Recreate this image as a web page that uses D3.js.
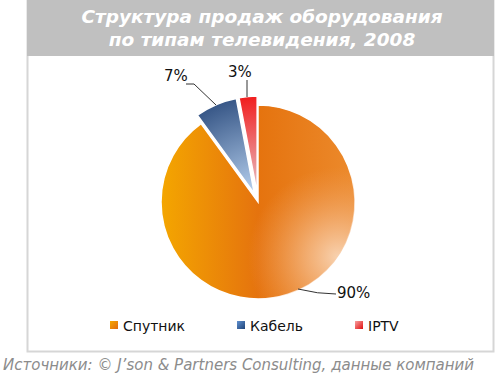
<!DOCTYPE html>
<html>
<head>
<meta charset="utf-8">
<script src="https://cdn.jsdelivr.net/npm/d3@7"></script>
<style>
  body { margin: 0; background: #fff; }
  svg { display: block; }
</style>
</head>
<body>
<div id="container"></div>
<script>
// data
const categories = ['Спутник', 'Кабель', 'IPTV'];
const shares = [90, 7, 3];
const labels = ['90%', '7%', '3%'];
const titleLines = ['Структура продаж оборудования', 'по типам телевидения, 2008'];
const sourceText = 'Источники: © J’son & Partners Consulting, данные компаний';

const width = 500, height = 375;
const cx = 258, cy = 202, radius = 97;

const svg = d3.select('#container')
  .append('svg')
  .attr('width', width)
  .attr('height', height);

const defs = svg.append('defs');

// orange gradient (coordinates relative to pie centre)
const og = defs.append('linearGradient').attr('id', 'g-orange')
  .attr('gradientUnits', 'userSpaceOnUse')
  .attr('x1', -radius).attr('y1', 0).attr('x2', radius).attr('y2', 0);
og.append('stop').attr('offset', 0).attr('stop-color', '#f4a600');
og.append('stop').attr('offset', 0.5).attr('stop-color', '#e5730e');
og.append('stop').attr('offset', 1).attr('stop-color', '#ec8a2c');

const oh = defs.append('radialGradient').attr('id', 'g-orange-hl')
  .attr('gradientUnits', 'userSpaceOnUse')
  .attr('cx', 80).attr('cy', 55).attr('r', 90);
oh.append('stop').attr('offset', 0).attr('stop-color', '#f8d2b0').attr('stop-opacity', 1);
oh.append('stop').attr('offset', 0.35).attr('stop-color', '#f5bb8a').attr('stop-opacity', 0.75);
oh.append('stop').attr('offset', 1).attr('stop-color', '#f0a060').attr('stop-opacity', 0);

// blue / red radial gradients (light at centre, saturated at rim)
const radial = (id, inner, outer) => {
  const g = defs.append('radialGradient').attr('id', id)
    .attr('gradientUnits', 'userSpaceOnUse')
    .attr('cx', 0).attr('cy', 0).attr('r', radius + 10);
  g.append('stop').attr('offset', 0).attr('stop-color', inner);
  g.append('stop').attr('offset', 1).attr('stop-color', outer);
};
radial('g-blue', '#b8d2f0', '#2a4a7c');
radial('g-red', '#e8c4c8', '#f20c0c');

const fills = ['url(#g-orange)', 'url(#g-blue)', 'url(#g-red)'];
const legendColors = [['#f6a800', '#e06a10'], ['#6090d0', '#1f4478'], ['#f8a0a0', '#e01010']];
const explode = [0, 9, 9];

// header + frame
svg.append('rect')
  .attr('x', 27.5).attr('y', 0.5).attr('width', 466).attr('height', 351)
  .attr('fill', '#fff').attr('stroke', '#d6d6d6').attr('stroke-width', 2);
svg.append('rect')
  .attr('x', 27).attr('y', 0).attr('width', 467).attr('height', 56)
  .attr('fill', '#c0c0c0');

svg.append('g')
  .selectAll('text')
  .data(titleLines)
  .join('text')
  .attr('x', 262)
  .attr('y', (d, i) => 23 + i * 23)
  .attr('text-anchor', 'middle')
  .attr('fill', '#fff')
  .style('font-family', 'DejaVu Sans, sans-serif')
  .style('font-weight', 'bold')
  .style('font-style', 'italic')
  .style('font-size', '18.5px')
  .text(d => d);

// pie
const pie = d3.pie().sort(null).value(d => d);
const arcs = pie(shares);
const arc = d3.arc().innerRadius(0).outerRadius(radius);

const slices = svg.append('g')
  .attr('transform', `translate(${cx},${cy})`)
  .selectAll('g')
  .data(arcs)
  .join('g')
  .attr('transform', (d, i) => {
    const a = (d.startAngle + d.endAngle) / 2;
    return `translate(${Math.sin(a) * explode[i]},${-Math.cos(a) * explode[i]})`;
  });

slices.append('path')
  .attr('d', arc)
  .attr('fill', (d, i) => fills[i])
  .attr('stroke', '#fff')
  .attr('stroke-width', 1.5);

// light highlight on the lower right of the big slice
slices.filter((d, i) => i === 0)
  .append('path')
  .attr('d', arc)
  .attr('fill', 'url(#g-orange-hl)');

// labels with leader lines
const labelPos = [[337, 298], [164, 81], [228, 77]];
const leaders = [
  d => `M${cx + 40},${cy + 87} Q${cx + 60},${cy + 92} ${cx + 78},${cy + 92}`,
  d => `M${cx - 42},${cy - 97} L${cx - 64},${cy - 118} L${cx - 72},${cy - 118}`,
  d => `M${cx - 11},${cy - 105} L${cx - 11},${cy - 122}`
];
svg.append('g')
  .selectAll('path')
  .data(arcs)
  .join('path')
  .attr('d', (d, i) => leaders[i](d))
  .attr('fill', 'none')
  .attr('stroke', '#333')
  .attr('stroke-width', 1);

svg.append('g')
  .selectAll('text')
  .data(labels)
  .join('text')
  .attr('x', (d, i) => labelPos[i][0])
  .attr('y', (d, i) => labelPos[i][1])
  .attr('fill', '#111')
  .style('font-family', 'DejaVu Sans, sans-serif')
  .style('font-size', '15px')
  .text(d => d);

// legend
const legendX = [110, 237, 355];
const legend = svg.append('g')
  .selectAll('g')
  .data(categories)
  .join('g')
  .attr('transform', (d, i) => `translate(${legendX[i]},321)`);

legendColors.forEach((c, i) => {
  const lg = defs.append('linearGradient').attr('id', `lg-${i}`)
    .attr('x1', 0).attr('y1', 0).attr('x2', 1).attr('y2', 1);
  lg.append('stop').attr('offset', 0).attr('stop-color', c[0]);
  lg.append('stop').attr('offset', 1).attr('stop-color', c[1]);
});

legend.append('rect')
  .attr('width', 8).attr('height', 8)
  .attr('fill', (d, i) => `url(#lg-${i})`);

legend.append('text')
  .attr('x', 13).attr('y', 10)
  .attr('fill', '#111')
  .style('font-family', 'DejaVu Sans, sans-serif')
  .style('font-size', '14px')
  .text(d => d);

// source
svg.append('text')
  .attr('x', 3).attr('y', 370)
  .attr('fill', '#8c8c8c')
  .style('font-family', 'DejaVu Sans, sans-serif')
  .style('font-style', 'italic')
  .style('font-size', '15px')
  .text(sourceText);
</script>
</body>
</html>
